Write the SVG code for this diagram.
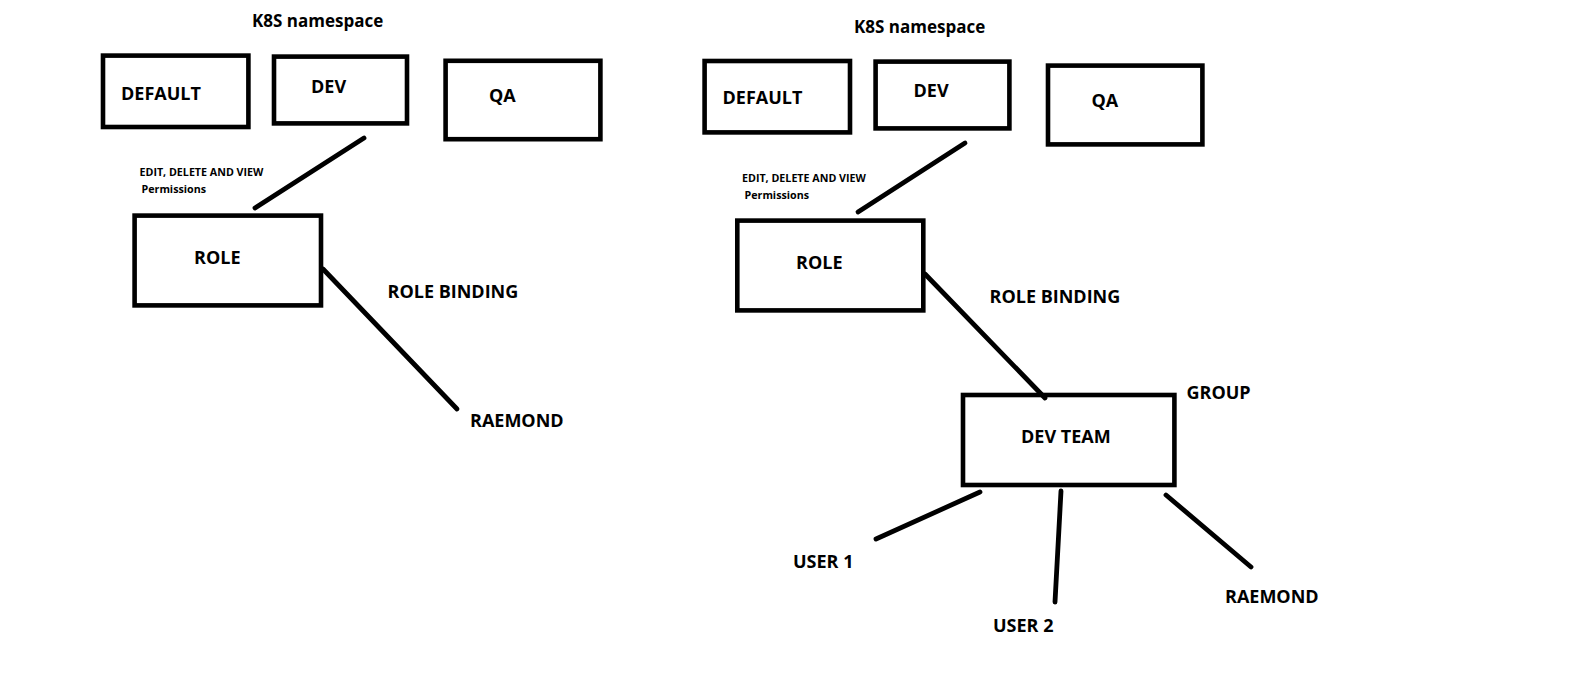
<svg xmlns="http://www.w3.org/2000/svg" width="1585" height="693" viewBox="0 0 1585 693">
<style>
.box{fill:none;stroke:#000;stroke-width:4.6}
.ln{stroke:#000;stroke-width:4.8;stroke-linecap:round;fill:none}
text{font-family:"Open Sans","Noto Sans","Liberation Sans",sans-serif;font-weight:bold;fill:#000}
.t{font-size:18px}
.h{font-size:17px}
.s{font-size:10.7px}
</style>
<rect width="1585" height="693" fill="#fff"/>
<g id="connectors">
<line class="ln" x1="364" y1="138" x2="255" y2="208"/>
<line class="ln" x1="323" y1="269" x2="457" y2="409"/>
<line class="ln" x1="965" y1="143" x2="858" y2="212"/>
<line class="ln" x1="925" y1="274" x2="1045" y2="398"/>
<line class="ln" x1="980" y1="492" x2="876" y2="539"/>
<line class="ln" x1="1061" y1="491" x2="1055" y2="602"/>
<line class="ln" x1="1166" y1="495" x2="1251" y2="567"/>
</g>
<g id="left-title"><text class="h" x="252" y="27">K8S namespace</text></g>
<g id="left-default"><rect class="box" x="103" y="55.6" width="145.4" height="71.4"/><text class="t" x="121" y="100">DEFAULT</text></g>
<g id="left-dev"><rect class="box" x="274" y="56.6" width="133" height="66.8"/><text class="t" x="311" y="92.7">DEV</text></g>
<g id="left-qa"><rect class="box" x="445.6" y="60.8" width="154.8" height="78.4"/><text class="t" x="489" y="102">QA</text></g>
<g id="left-permissions"><text class="s" x="139.5" y="176.3">EDIT, DELETE AND VIEW</text><text class="s" x="141.5" y="192.5">Permissions</text></g>
<g id="left-role"><rect class="box" x="134.6" y="215.6" width="186.4" height="89.8"/><text class="t" x="194" y="264.3">ROLE</text></g>
<g id="left-rolebinding"><text class="t" x="387.5" y="298.3">ROLE BINDING</text></g>
<g id="left-raemond"><text class="t" x="470" y="426.7">RAEMOND</text></g>
<g id="right-title"><text class="h" x="854" y="32.5">K8S namespace</text></g>
<g id="right-default"><rect class="box" x="704.6" y="61" width="145.4" height="71.4"/><text class="t" x="722.5" y="104.3">DEFAULT</text></g>
<g id="right-dev"><rect class="box" x="875.6" y="61.6" width="133.8" height="66.8"/><text class="t" x="913.5" y="97.3">DEV</text></g>
<g id="right-qa"><rect class="box" x="1048" y="65.6" width="154.4" height="78.8"/><text class="t" x="1091.5" y="107">QA</text></g>
<g id="right-permissions"><text class="s" x="742" y="181.7">EDIT, DELETE AND VIEW</text><text class="s" x="744.5" y="198.5">Permissions</text></g>
<g id="right-role"><rect class="box" x="737.3" y="220.6" width="186" height="89.8"/><text class="t" x="796" y="269.3">ROLE</text></g>
<g id="right-rolebinding"><text class="t" x="989.5" y="302.7">ROLE BINDING</text></g>
<g id="right-group"><text class="t" x="1186.5" y="399">GROUP</text></g>
<g id="right-devteam"><rect class="box" x="963" y="395" width="211.4" height="90"/><text class="t" x="1021" y="443.3">DEV TEAM</text></g>
<g id="right-user1"><text class="t" x="793" y="568.3">USER 1</text></g>
<g id="right-user2"><text class="t" x="993" y="631.7">USER 2</text></g>
<g id="right-raemond"><text class="t" x="1225" y="603.3">RAEMOND</text></g>
</svg>
